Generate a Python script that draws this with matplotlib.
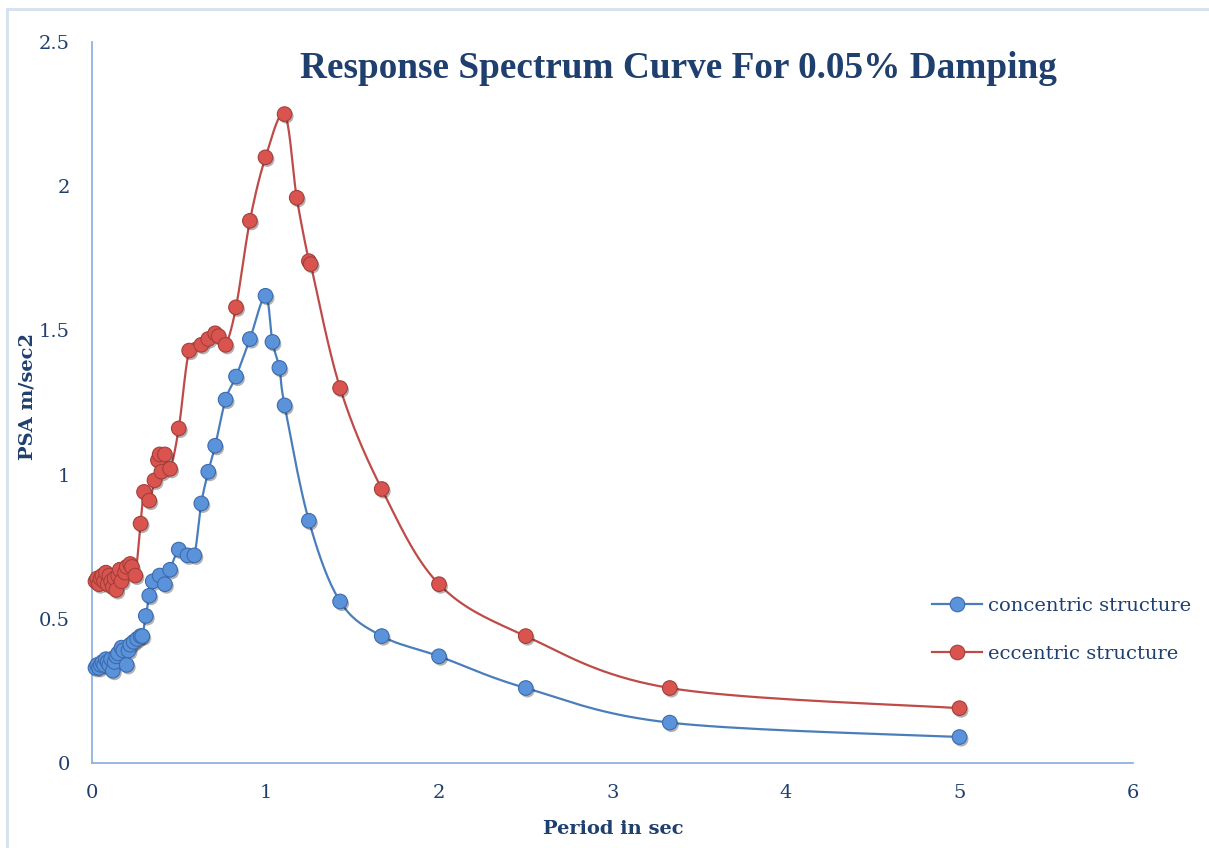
import numpy as np
import matplotlib
matplotlib.use("Agg")
import matplotlib.pyplot as plt
import matplotlib.patheffects as pe
from matplotlib.lines import Line2D

# ---------------- data ----------------
conc_T = [0.02, 0.03, 0.04, 0.05, 0.06, 0.07, 0.08, 0.09, 0.10, 0.11, 0.12, 0.13,
          0.14, 0.15, 0.17, 0.18, 0.20, 0.21, 0.22, 0.24, 0.26, 0.28, 0.29, 0.31,
          0.33, 0.35, 0.39, 0.42, 0.45, 0.50, 0.55, 0.59, 0.63, 0.67, 0.71, 0.77,
          0.83, 0.91, 1.00, 1.04, 1.08, 1.11, 1.25, 1.43, 1.67, 2.00, 2.50, 3.33, 5.00]
conc_PSA = [0.33, 0.34, 0.33, 0.34, 0.35, 0.34, 0.36, 0.35, 0.34, 0.36, 0.32, 0.35,
            0.37, 0.38, 0.40, 0.39, 0.34, 0.39, 0.41, 0.42, 0.43, 0.44, 0.44, 0.51,
            0.58, 0.63, 0.65, 0.62, 0.67, 0.74, 0.72, 0.72, 0.90, 1.01, 1.10, 1.26,
            1.34, 1.47, 1.62, 1.46, 1.37, 1.24, 0.84, 0.56, 0.44, 0.37, 0.26, 0.14, 0.09]

ecc_T = [0.02, 0.03, 0.04, 0.05, 0.06, 0.07, 0.08, 0.09, 0.10, 0.11, 0.12, 0.13,
         0.14, 0.15, 0.16, 0.17, 0.19, 0.20, 0.22, 0.23, 0.25, 0.28, 0.30, 0.33,
         0.36, 0.38, 0.39, 0.40, 0.42, 0.45, 0.50, 0.56, 0.63, 0.67, 0.71, 0.73,
         0.77, 0.83, 0.91, 1.00, 1.11, 1.18, 1.25, 1.26, 1.43, 1.67, 2.00, 2.50, 3.33, 5.00]
ecc_PSA = [0.63, 0.64, 0.62, 0.64, 0.65, 0.63, 0.66, 0.62, 0.65, 0.63, 0.61, 0.64,
           0.60, 0.65, 0.67, 0.63, 0.66, 0.68, 0.69, 0.68, 0.65, 0.83, 0.94, 0.91,
           0.98, 1.05, 1.07, 1.01, 1.07, 1.02, 1.16, 1.43, 1.45, 1.47, 1.49, 1.48,
           1.45, 1.58, 1.88, 2.10, 2.25, 1.96, 1.74, 1.73, 1.30, 0.95, 0.62, 0.44, 0.26, 0.19]

x_ticks = [0, 1, 2, 3, 4, 5, 6]
y_ticks = [0, 0.5, 1, 1.5, 2, 2.5]
y_tick_labels = ["0", "0.5", "1", "1.5", "2", "2.5"]

title = "Response Spectrum Curve For 0.05% Damping"
x_label = "Period in sec"
y_label = "PSA m/sec2"
series_names = ["concentric structure", "eccentric structure"]

# ---------------- helpers ----------------
def smooth(x, y, n=20):
    """Excel-like smoothing (uniform Catmull-Rom / Bezier)."""
    x = np.asarray(x, float)
    y = np.asarray(y, float)
    P = np.column_stack([x, y])
    out = [P[0]]
    for i in range(len(P) - 1):
        p0 = P[i - 1] if i > 0 else P[i]
        p1 = P[i]
        p2 = P[i + 1]
        p3 = P[i + 2] if i + 2 < len(P) else P[i + 1]
        c1 = p1 + (p2 - p0) / 6.0
        c2 = p2 - (p3 - p1) / 6.0
        t = np.linspace(0, 1, n)[1:, None]
        seg = ((1 - t) ** 3) * p1 + 3 * ((1 - t) ** 2) * t * c1 + 3 * (1 - t) * t ** 2 * c2 + t ** 3 * p2
        out.extend(seg)
    out = np.array(out)
    return out[:, 0], out[:, 1]

text_color = "#1F3F6E"
blue_line = "#4A7EBB"
blue_face = "#5B93DB"
blue_edge = "#3C6AAE"
red_line = "#BE4B48"
red_face = "#D9544F"
red_edge = "#A33F3B"
axis_color = "#8DB3E2"

serif = ["DejaVu Serif"]

fig = plt.figure(figsize=(12.09, 8.48), dpi=100)
fig.patch.set_facecolor("white")

# chart-area border (top and left only are visible)
border_kw = dict(transform=fig.transFigure, color="#D5E1F0", linewidth=2.0)
fig.add_artist(Line2D([7 / 1209, 1.0], [1 - 9 / 848, 1 - 9 / 848], **border_kw))
fig.add_artist(Line2D([7 / 1209, 7 / 1209], [0.0, 1 - 9 / 848], **border_kw))

ax = fig.add_axes([92 / 1209, 1 - 763 / 848, (1133 - 92) / 1209, (763 - 42) / 848])
ax.set_xlim(0, 6)
ax.set_ylim(0, 2.5)

shadow = [pe.SimplePatchShadow(offset=(1.2, -1.6), shadow_rgbFace="black", alpha=0.3), pe.Normal()]

for T, S, lc, fc, ec in [(conc_T, conc_PSA, blue_line, blue_face, blue_edge),
                         (ecc_T, ecc_PSA, red_line, red_face, red_edge)]:
    sx, sy = smooth(T, S)
    ax.plot(sx, sy, color=lc, linewidth=1.6, zorder=2, clip_on=False)
    ax.plot(T, S, linestyle="none", marker="o", markersize=10.5,
            markerfacecolor=fc, markeredgecolor=ec, markeredgewidth=0.8,
            zorder=3, clip_on=False, path_effects=shadow)

for side in ["top", "right"]:
    ax.spines[side].set_visible(False)
for side in ["left", "bottom"]:
    ax.spines[side].set_color(axis_color)
    ax.spines[side].set_linewidth(1.3)

ax.set_xticks(x_ticks)
ax.set_yticks(y_ticks)
ax.set_yticklabels(y_tick_labels)
ax.tick_params(axis="both", length=0, labelsize=14, labelcolor=text_color)
ax.tick_params(axis="x", pad=15)
ax.tick_params(axis="y", pad=16)
for lab in ax.get_xticklabels() + ax.get_yticklabels():
    lab.set_family(serif)

fig.text(678 / 1209, 1 - 68 / 848, title, ha="center", va="center",
         fontsize=26.8, fontweight="bold", color=text_color,
         family=["Liberation Serif"])
fig.text(613 / 1209, 1 - 829 / 848, x_label, ha="center", va="center",
         fontsize=14, fontweight="bold", color=text_color, family=serif)
fig.text(28 / 1209, 1 - 396 / 848, y_label, ha="center", va="center",
         rotation=90, fontsize=14, fontweight="bold", color=text_color, family=serif)

handles = [Line2D([0], [0], color=blue_line, linewidth=1.6, marker="o", markersize=10.5,
                  markerfacecolor=blue_face, markeredgecolor=blue_edge, markeredgewidth=0.8),
           Line2D([0], [0], color=red_line, linewidth=1.6, marker="o", markersize=10.5,
                  markerfacecolor=red_face, markeredgecolor=red_edge, markeredgewidth=0.8)]
leg = fig.legend(handles, series_names, loc="center left",
                 bbox_to_anchor=(914 / 1209, 1 - 630 / 848), frameon=False,
                 prop={"family": serif, "size": 14}, handlelength=2.6,
                 labelspacing=1.55, handletextpad=0.3)
for t in leg.get_texts():
    t.set_color(text_color)

fig.savefig("out.png", dpi=100, facecolor="white")
